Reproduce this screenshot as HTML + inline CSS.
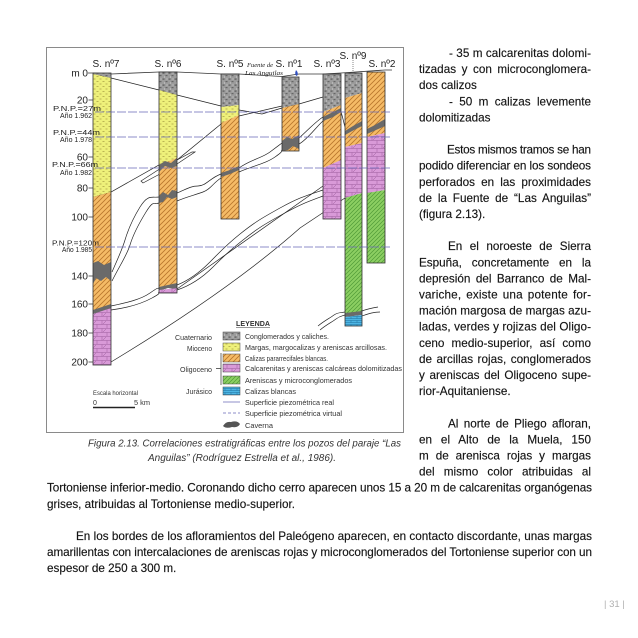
<!DOCTYPE html>
<html><head><meta charset="utf-8">
<style>html,body{margin:0;padding:0;background:#fff}svg{display:block}</style>
</head><body>
<svg width="638" height="638" viewBox="0 0 638 638" xmlns="http://www.w3.org/2000/svg" style="font-family:'Liberation Sans',Arial,sans-serif">
<defs>
<pattern id="pg" width="6" height="6" patternUnits="userSpaceOnUse"><rect width="6" height="6" fill="#9c9c9c"/><rect x="0.5" y="0.5" width="2" height="1.2" fill="#5a5a5a"/><rect x="3.5" y="3" width="2" height="1.2" fill="#666"/><rect x="2" y="4.5" width="1" height="1" fill="#d0d0d0"/><rect x="4.5" y="0.5" width="1" height="1" fill="#cfcfcf"/></pattern>
<pattern id="py" width="6" height="5" patternUnits="userSpaceOnUse"><rect width="6" height="5" fill="#eef07a"/><path d="M0.5 1.5h2M3.5 4h2" stroke="#a9a244" stroke-width="0.7"/></pattern>
<pattern id="po" width="5" height="5" patternUnits="userSpaceOnUse"><rect width="5" height="5" fill="#f5bb66"/><path d="M0 5L5 0M-1 1L1 -1M4 6L6 4" stroke="#b8762c" stroke-width="0.8"/></pattern>
<pattern id="pp" width="10" height="8" patternUnits="userSpaceOnUse"><rect width="10" height="8" fill="#d99ad8"/><path d="M0 0.5H10M0 4.5H10M2 0.5V4.5M7 4.5V8.5" stroke="#9c5c9c" stroke-width="0.5"/><path d="M3 4L6 1" stroke="#9c5c9c" stroke-width="0.5"/></pattern>
<pattern id="pgr" width="4" height="4" patternUnits="userSpaceOnUse"><rect width="4" height="4" fill="#8ccf62"/><path d="M0 4L4 0M-1 1L1 -1M3 5L5 3" stroke="#4f9a36" stroke-width="0.7"/></pattern>
<pattern id="pb" width="6" height="4" patternUnits="userSpaceOnUse"><rect width="6" height="4" fill="#4db6e4"/><path d="M0 0.5H6M3 0.5V2.5M0 2.5H6" stroke="#1d6f9e" stroke-width="0.5"/></pattern>
</defs>

<rect x="46.5" y="47.5" width="357" height="385" fill="none" stroke="#8a8a8a" stroke-width="1"/>

<g fill="none" stroke="#222" stroke-width="0.7">
<path d="M93 74 L111 78 L159 90 L177 95 L221 106 L239 110 L262 114 L282 108 L299 104 L323 97"/>
<path d="M93 197 L111 192 L159 165 L177 160 L221 124 L239 116 L282 106"/>
<path d="M143 183 L158 175 L177 164 L195 152 L192 152 L177 160 L158 170 L141 181 Z"/>
<path d="M112 272 C118 258 122 250 125 240 S132 220 140 207 S152 198 159 197"/>
<path d="M177 193 C185 190 190 186 198 186 S210 178 221 174"/>
<path d="M239 168 C250 160 262 158 270 152 S278 146 282 143"/>
<path d="M299 138 C305 133 315 122 323 117"/>
<path d="M341 112 C343 118 344 124 345 127"/>
<path d="M112 281 C120 265 127 255 130 245 S138 225 146 212 S154 205 159 203"/>
<path d="M177 201 C186 197 195 195 203 192 S213 183 221 178"/>
<path d="M239 172 C252 166 265 164 275 157 S280 152 282 150"/>
<path d="M299 144 C307 140 317 126 323 121"/>
<path d="M111 306 C125 303 140 300 150 293 S157 289 159 288"/>
<path d="M111 310 C126 308 141 304 152 298 S157 294 159 292"/>
<path d="M177 285 C190 280 200 272 210 262 S225 246 240 234 S262 218 280 208 S305 196 323 190"/>
<path d="M177 290 C192 285 203 277 213 267 S228 252 243 240 S265 224 283 214 S307 202 323 196"/>
<path d="M111 362 Q230 290 300 228 L345 198"/>
<path d="M177 289 L323 186"/>
<path d="M320 330 C326 325 332 322 336 319 S342 316 345 315"/>
<path d="M318 326 C324 321 330 318 334 315 S341 313 345 312"/>
<path d="M362 311 C367 309 372 308 378 307"/>
<path d="M362 316 C368 314 373 312 380 312"/>
</g>

<path d="M88 73 L93 73 L111 74 L159 72 L177 72 L221 74 L239 74 L282 76.5 L299 74 L323 74 L341 73 L385 70 L392 70" fill="none" stroke="#333" stroke-width="0.8"/>
<path d="M296 70 q3 3 1 6 q-3 -1 -1 -6z" fill="#2f4fc0"/>

<g stroke="none">
<polygon points="93,73 111,73 111,78 93,74" fill="url(#pg)"/>
<polygon points="93,74 111,78 111,192 93,197" fill="url(#py)"/>
<polygon points="93,197 111,192 111,306 93,312" fill="url(#po)"/>
<polygon points="93,312 111,306 111,365 93,365" fill="url(#pp)"/>
<polygon points="93,263 98,261 104,265 111,262 111,281 106,277 101,281 96,278 93,284" fill="#6a6a6a"/>
<polygon points="93,310 111,304 111,308 93,314" fill="#6a6a6a"/>
<polygon points="159,72 177,72 177,95 159,90" fill="url(#pg)"/>
<polygon points="159,90 177,95 177,158 159,165" fill="url(#py)"/>
<polygon points="159,165 177,158 177,287 159,288" fill="url(#po)"/>
<polygon points="159,165 165,161 171,163 177,158 177,166 171,168 165,166 159,172" fill="#6a6a6a"/>
<polygon points="159,196 163,192 168,195 172,190 177,191 177,197 172,199 167,197 163,202 159,203" fill="#6a6a6a"/>
<polygon points="159,287 177,283 177,289 168,288 159,291" fill="#6a6a6a"/>
<polygon points="159,290 177,288 177,293 159,293" fill="url(#pp)"/>
<polygon points="221,74 239,74 239,105 221,107" fill="url(#pg)"/>
<polygon points="221,107 239,105 239,115 221,123" fill="url(#py)"/>
<polygon points="221,123 239,115 239,219 221,219" fill="url(#po)"/>
<polygon points="221,173 230,170 239,166 239,170 230,174 221,177" fill="#6a6a6a"/>
<polygon points="282,77 299,77 299,104 282,108" fill="url(#pg)"/>
<polygon points="282,108 299,104 299,151 282,151" fill="url(#po)"/>
<polygon points="282,141 287,137 292,139 299,135 299,149 293,146 288,150 282,151" fill="#6a6a6a"/>
<polygon points="323,74 341,74 341,105 323,112" fill="url(#pg)"/>
<polygon points="323,112 341,105 341,160 323,168" fill="url(#po)"/>
<polygon points="323,117 331,113 341,108 341,112 333,117 323,121" fill="#6a6a6a"/>
<polygon points="323,168 341,160 341,219 323,219" fill="url(#pp)"/>
<polygon points="345,73 362,73 362,93 345,98" fill="url(#pg)"/>
<polygon points="345,98 362,93 362,143 345,147" fill="url(#po)"/>
<polygon points="345,131 353,126 362,121 362,126 354,130 345,135" fill="#6a6a6a"/>
<polygon points="345,147 362,143 362,193 345,198" fill="url(#pp)"/>
<polygon points="345,198 362,193 362,312 345,314" fill="url(#pgr)"/>
<polygon points="345,313 362,311 362,315 345,317" fill="#6a6a6a"/>
<polygon points="345,317 362,315 362,326 345,326" fill="url(#pb)"/>
<polygon points="367,72 385,72 385,133 367,137" fill="url(#po)"/>
<polygon points="367,129 375,125 385,119 385,126 376,130 367,134" fill="#6a6a6a"/>
<polygon points="367,137 385,133 385,190 367,193" fill="url(#pp)"/>
<polygon points="367,193 385,190 385,263 367,263" fill="url(#pgr)"/>
</g>
<g fill="none" stroke="#333" stroke-width="0.8">
<rect x="93" y="73" width="18" height="292"/>
<rect x="159" y="72" width="18" height="221"/>
<rect x="221" y="74" width="18" height="145"/>
<rect x="282" y="77" width="17" height="74"/>
<rect x="323" y="74" width="18" height="145"/>
<rect x="345" y="73" width="17" height="253"/>
<rect x="367" y="72" width="18" height="191"/>
</g>
<path d="M353 60 L353 73" stroke="#555" stroke-width="0.7" stroke-dasharray="1,1"/>

<g stroke="#6a6ab8" stroke-width="0.8" stroke-dasharray="9,2" fill="none">
<path d="M95 112 H392"/><path d="M95 137 H392"/><path d="M95 168 H392"/><path d="M95 247 H392"/>
</g>

<g font-size="10" fill="#222" text-anchor="middle">
<text x="106" y="67">S. nº7</text>
<text x="168" y="67">S. nº6</text>
<text x="230" y="67">S. nº5</text>
<text x="289" y="67">S. nº1</text>
<text x="327" y="67">S. nº3</text>
<text x="353" y="59">S. nº9</text>
<text x="382" y="67">S. nº2</text>
</g>
<g style="font-family:'Liberation Serif',serif" font-style="italic" font-size="6.5" fill="#222">
<text x="247" y="67" textLength="26" lengthAdjust="spacingAndGlyphs">Fuente de</text>
<text x="245" y="75" textLength="38" lengthAdjust="spacingAndGlyphs">Las Anguilas</text>
</g>

<g font-size="10" fill="#222" text-anchor="end">
<text x="88" y="76.5">m 0</text>
<text x="88" y="103.5">20</text>
<text x="88" y="160.5">60</text>
<text x="88" y="191.5">80</text>
<text x="88" y="220.5">100</text>
<text x="88" y="279.5">140</text>
<text x="88" y="307.5">160</text>
<text x="88" y="336.5">180</text>
<text x="88" y="365.5">200</text>
</g>
<g stroke="#333" stroke-width="0.8">
<path d="M88.5 100H93M88.5 157H93M88.5 188H93M88.5 217H93M88.5 276H93M88.5 304H93M88.5 333H93M88.5 362H93"/>
</g>
<g font-size="7.5" fill="#222">
<text x="53" y="111" textLength="48" lengthAdjust="spacingAndGlyphs">P.N.P.=27m</text>
<text x="60" y="118" textLength="32" lengthAdjust="spacingAndGlyphs">Año 1.962</text>
<text x="53" y="135" textLength="47" lengthAdjust="spacingAndGlyphs">P.N.P.=44m</text>
<text x="60" y="142" textLength="32" lengthAdjust="spacingAndGlyphs">Año 1.978</text>
<text x="52" y="167" textLength="46" lengthAdjust="spacingAndGlyphs">P.N.P.=66m</text>
<text x="60" y="175" textLength="32" lengthAdjust="spacingAndGlyphs">Año 1.982</text>
<text x="52" y="245.5" textLength="47" lengthAdjust="spacingAndGlyphs">P.N.P.=120m</text>
<text x="62" y="252" textLength="30" lengthAdjust="spacingAndGlyphs">Año 1.985</text>
</g>

<text x="236" y="326" font-size="7" font-weight="bold" fill="#333" textLength="34" lengthAdjust="spacingAndGlyphs">LEYENDA</text>
<path d="M236 327.5H270" stroke="#333" stroke-width="0.6"/>
<g stroke="#444" stroke-width="0.5">
<rect x="223" y="332" width="17" height="8" fill="url(#pg)"/>
<rect x="223" y="343" width="17" height="8" fill="url(#py)"/>
<rect x="223" y="354" width="17" height="8" fill="url(#po)"/>
<rect x="223" y="364" width="17" height="8" fill="url(#pp)"/>
<rect x="223" y="376" width="17" height="8" fill="url(#pgr)"/>
<rect x="223" y="387" width="17" height="8" fill="url(#pb)"/>
</g>
<path d="M223 402H240" stroke="#6a6ab8" stroke-width="0.8"/>
<path d="M223 413H240" stroke="#6a6ab8" stroke-width="0.8" stroke-dasharray="3,2"/>
<path d="M223 426 q3 -5 8 -4 q6 -2 9 2 q-2 4 -8 3 q-6 2 -9 -1z" fill="#555"/>
<path d="M221 353V385M216 368.5H221" stroke="#333" stroke-width="0.7"/>
<g font-size="7.3" fill="#333">
<text x="245" y="339" textLength="84" lengthAdjust="spacingAndGlyphs">Conglomerados y caliches.</text>
<text x="245" y="350" textLength="142" lengthAdjust="spacingAndGlyphs">Margas, margocalizas y areniscas arcillosas.</text>
<text x="245" y="361" textLength="83" lengthAdjust="spacingAndGlyphs">Calizas pararrecifales blancas.</text>
<text x="245" y="371" textLength="157" lengthAdjust="spacingAndGlyphs">Calcarenitas y areniscas calcáreas dolomitizadas</text>
<text x="245" y="383" textLength="107" lengthAdjust="spacingAndGlyphs">Areniscas y microconglomerados</text>
<text x="245" y="394" textLength="51" lengthAdjust="spacingAndGlyphs">Calizas blancas</text>
<text x="245" y="405" textLength="89" lengthAdjust="spacingAndGlyphs">Superficie piezométrica real</text>
<text x="245" y="416" textLength="97" lengthAdjust="spacingAndGlyphs">Superficie piezométrica virtual</text>
<text x="245" y="428" textLength="28" lengthAdjust="spacingAndGlyphs">Caverna</text>
</g>
<g font-size="7.5" fill="#333" text-anchor="end">
<text x="212" y="340" textLength="37" lengthAdjust="spacingAndGlyphs">Cuaternario</text>
<text x="212" y="351" textLength="25" lengthAdjust="spacingAndGlyphs">Mioceno</text>
<text x="212" y="372" textLength="32" lengthAdjust="spacingAndGlyphs">Oligoceno</text>
<text x="212" y="394" textLength="26" lengthAdjust="spacingAndGlyphs">Jurásico</text>
</g>
<g font-size="6" fill="#333">
<text x="93" y="395" textLength="45" lengthAdjust="spacingAndGlyphs">Escala horizontal</text>
<text x="93" y="405" font-size="7">0</text>
<text x="134" y="405" font-size="7" textLength="16" lengthAdjust="spacingAndGlyphs">5 km</text>
</g>
<path d="M93 407.5H135" stroke="#222" stroke-width="1.6"/>

<g font-size="10" font-style="italic" fill="#333">
<text x="88" y="446.5" textLength="313" lengthAdjust="spacingAndGlyphs">Figura 2.13. Correlaciones estratigráficas entre los pozos del paraje “Las</text>
<text x="148" y="461" textLength="188" lengthAdjust="spacingAndGlyphs">Anguilas” (Rodríguez Estrella et al., 1986).</text>
</g>

<g font-size="11.7" fill="#141414" stroke="#141414" stroke-width="0.15">
<text x="449" y="57" textLength="142" lengthAdjust="spacing">- 35 m calcarenitas dolomi-</text>
<text x="419" y="73.1" textLength="172" lengthAdjust="spacing" word-spacing="2.3">tizadas y con microconglomera-</text>
<text x="419" y="89.2">dos calizos</text>
<text x="449" y="105.3" textLength="142" lengthAdjust="spacing" word-spacing="3.1">- 50 m calizas levemente</text>
<text x="419" y="121.4">dolomitizadas</text>
<text x="447" y="153.6" textLength="144" lengthAdjust="spacing">Estos mismos tramos se han</text>
<text x="419" y="169.7" textLength="172" lengthAdjust="spacing">podido diferenciar en los sondeos</text>
<text x="419" y="185.8" textLength="172" lengthAdjust="spacing" word-spacing="2.9">perforados en las proximidades</text>
<text x="419" y="201.9" textLength="172" lengthAdjust="spacing" word-spacing="2.5">de la Fuente de “Las Anguilas”</text>
<text x="419" y="218">(figura 2.13).</text>
<text x="448" y="250.2" textLength="143" lengthAdjust="spacing" word-spacing="4.2">En el noroeste de Sierra</text>
<text x="419" y="266.3" textLength="172" lengthAdjust="spacing" word-spacing="6.6">Espuña, concretamente en la</text>
<text x="419" y="282.4" textLength="172" lengthAdjust="spacing" word-spacing="2.2">depresión del Barranco de Mal-</text>
<text x="419" y="298.5" textLength="172" lengthAdjust="spacing" word-spacing="1.6">variche,  existe una potente for-</text>
<text x="419" y="314.6" textLength="172" lengthAdjust="spacing">mación margosa de margas azu-</text>
<text x="419" y="330.7" textLength="172" lengthAdjust="spacing">ladas, verdes y rojizas del Oligo-</text>
<text x="419" y="346.8" textLength="172" lengthAdjust="spacing" word-spacing="3.8">ceno medio-superior, así como</text>
<text x="419" y="362.9" textLength="172" lengthAdjust="spacing" word-spacing="1.2">de arcillas rojas, conglomerados</text>
<text x="419" y="379" textLength="172" lengthAdjust="spacing" word-spacing="1.4">y areniscas del Oligoceno supe-</text>
<text x="419" y="395.1">rior-Aquitaniense.</text>
<text x="448" y="427.3" textLength="143" lengthAdjust="spacing" word-spacing="2.1">Al norte de Pliego afloran,</text>
<text x="419" y="443.4" textLength="172" lengthAdjust="spacing" word-spacing="5.6">en el Alto de la Muela, 150</text>
<text x="419" y="459.5" textLength="172" lengthAdjust="spacing" word-spacing="3.7">m de arenisca rojas y margas</text>
<text x="419" y="475.6" textLength="172" lengthAdjust="spacing" word-spacing="5.9">del mismo color atribuidas al</text>
<text x="47" y="491.7" textLength="545" lengthAdjust="spacing">Tortoniense inferior-medio. Coronando dicho cerro aparecen unos 15 a 20 m de calcarenitas organógenas</text>
<text x="47" y="507.8">grises, atribuidas al Tortoniense medio-superior.</text>
<text x="76" y="540" textLength="516" lengthAdjust="spacing">En los bordes de los afloramientos del Paleógeno aparecen, en contacto discordante, unas margas</text>
<text x="47" y="556.1" textLength="545" lengthAdjust="spacing">amarillentas con intercalaciones de areniscas rojas y microconglomerados del Tortoniense superior con un</text>
<text x="47" y="572.2">espesor de 250 a 300 m.</text>
</g>

<text x="604" y="607" font-size="9.5" fill="#b0b0b0">| 31 |</text>
</svg>
</body></html>
